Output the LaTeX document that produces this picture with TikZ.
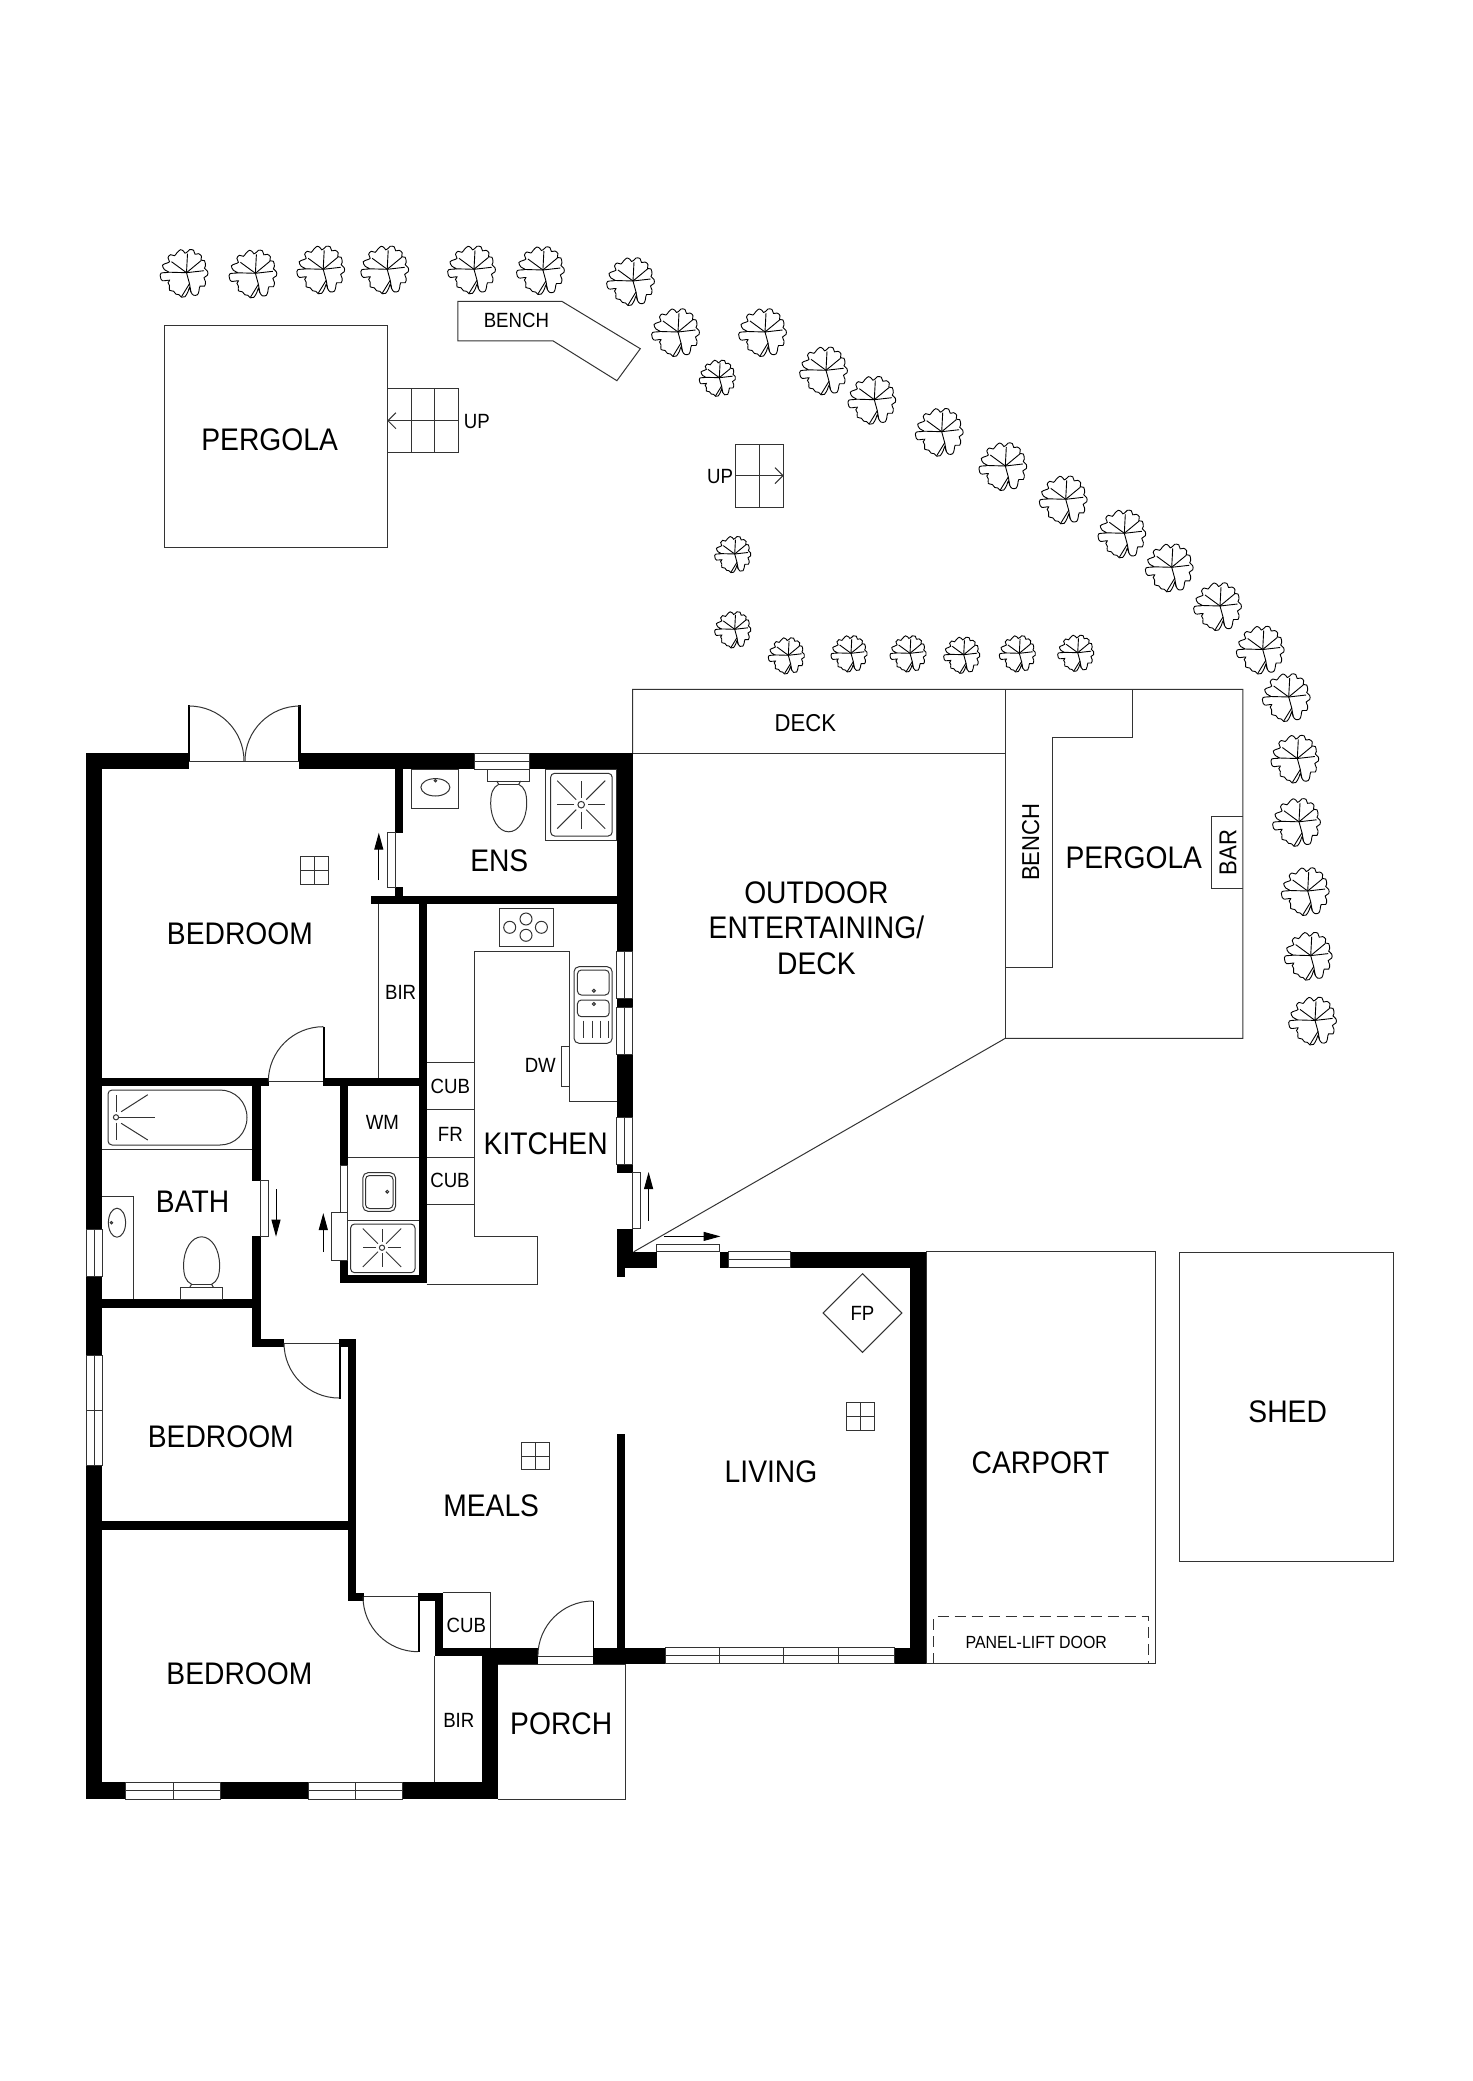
\documentclass[tikz,border=0pt]{standalone}
\usepackage{fontspec}
\setmainfont[FakeStretch=0.905]{Liberation Sans}
\usetikzlibrary{arrows.meta}
\newcommand{\s}{0.5pt}
% one tree, hub at #1,#2, size #3
\newcommand{\tree}[3]{
  \begin{scope}[shift={(#1,#2)},scale=#3,treeline]
    \draw plot[smooth cycle,tension=0.6] coordinates {(-6,-23) (-3,-21.5) (-1.5,-19.5) (1,-21) (3,-23) (7,-22.5) (8.5,-18.5) (12,-19) (15,-16.5) (14.5,-12.5) (18,-12) (19,-7) (18,-4.5) (21,-1.5) (21,2.5) (17.5,5) (19,9) (18,13.5) (13.5,13.5) (12.5,18) (11,22) (7,22.5) (4.5,19.5) (3,15) (1.5,19) (-1.5,24) (-5,24.5) (-7.5,22) (-10.5,21.5) (-13,18.5) (-17,17.5) (-17,13) (-18.5,10) (-17,7.5) (-24,8) (-26,4.5) (-25.5,0.5) (-18,-0.5) (-22,-3) (-24,-7.5) (-20,-9.5) (-17,-11) (-18.5,-15) (-16,-18) (-12,-17) (-9.5,-20)};
    \draw (0,0) -- (1,-19);
    \draw (0,0) -- (-15,-11);
    \draw (0,0) -- (-18,-0.5);
    \draw (0,0) -- (17.5,-2);
    \draw (0,0) -- (14.5,-12);
    \draw (0,0) -- (3,11) -- (-5,24);
    \draw (3,11) -- (4.5,19.5);
  \end{scope}
}
% windows in a wall, run along x or along y
\newcommand{\winh}[4]{\draw[fine] (#1,#2) rectangle (#3,#4); \draw[fine] (#1,{(#2+#4)/2}) -- (#3,{(#2+#4)/2});}
\newcommand{\winv}[4]{\draw[fine] (#1,#2) rectangle (#3,#4); \draw[fine] ({(#1+#3)/2},#2) -- ({(#1+#3)/2},#4);}
% door leaf: hinge #1,#2, arc towards sides #3,#4
\newcommand{\leaf}[4]{\draw[fine] (#1+#3*55,#2) .. controls (#1+#3*55,#2+#4*30.4) and (#1+#3*30.4,#2+#4*55) .. (#1,#2+#4*55);}
\newcommand{\fan}[2]{\draw[fine] (#1,#2) rectangle ++(28,27.5); \draw[fine] (#1+14,#2) -- ++(0,27.5); \draw[fine] (#1,#2+13.75) -- ++(28,0);}
\newcommand{\toilet}[3]{
  \begin{scope}[shift={(#1,#2)},yscale=#3,fine]
    \draw (-21,0) rectangle (21,11.7);
    \draw (-12,11.7) -- (-10,15) .. controls (-16,18) and (-18,24) .. (-18,34) .. controls (-18,50) and (-10,62.5) .. (0,62.5) .. controls (10,62.5) and (18,50) .. (18,34) .. controls (18,24) and (16,18) .. (10,15) -- (12,11.7);
    \draw (-10,15) -- (10,15);
  \end{scope}
}
\newcommand{\rose}[3]{
  \begin{scope}[shift={(#1,#2)},scale=#3,fine]
    \draw (0,0) circle (3.3);
    \draw (0,-7) -- (0,-24); \draw (0,7) -- (0,24);
    \draw (-7,0) -- (-24,0); \draw (7,0) -- (24,0);
    \draw (-5,-5) -- (-24,-24); \draw (5,-5) -- (24,-24);
    \draw (-5,5) -- (-24,24); \draw (5,5) -- (24,24);
  \end{scope}
}

\begin{document}
\begin{tikzpicture}[x=\s,y=-\s,
    fine/.style={line width=0.5pt,draw=black!80},
    treeline/.style={line width=0.45pt,draw=black},
    wall/.style={fill=black},
    bigl/.style={inner sep=0pt,align=center,font=\fontsize{15.6}{17.75}\selectfont},
    midl/.style={inner sep=0pt,font=\fontsize{12.2}{14}\selectfont},
    smalll/.style={inner sep=0pt,font=\fontsize{10.3}{12}\selectfont},
    tinyl/.style={inner sep=0pt,font=\fontsize{8.8}{10}\selectfont},
    slide/.style={-{Triangle[length=8.5pt,width=4.5pt]},line width=0.5pt},
    barb/.style={-{Straight Barb[length=4pt,width=8pt]},fine}]
    \useasboundingbox (0,0) rectangle (1472,2081);

    % Outer walls
    \fill[wall] (86,753) rectangle (189.4,769.3);
    \fill[wall] (299.2,753) rectangle (474.5,769.3);
    \fill[wall] (529.6,753) rectangle (632.8,769.3);
    \fill[wall] (86,753) rectangle (102,1229);
    \fill[wall] (86,1276) rectangle (102,1355);
    \fill[wall] (86,1465.7) rectangle (102,1799);
    \fill[wall] (86,1782.3) rectangle (125.5,1799);
    \fill[wall] (220.4,1782.3) rectangle (308,1799);
    \fill[wall] (402.7,1782.3) rectangle (498,1799);
    \fill[wall] (482,1648) rectangle (498,1799);
    \fill[wall] (616.8,753) rectangle (632.8,951);
    \fill[wall] (616.8,998.3) rectangle (632.8,1007.3);
    \fill[wall] (616.8,1054) rectangle (632.8,1117.7);
    \fill[wall] (616.8,1164.5) rectangle (632.8,1172.8);
    \fill[wall] (616.8,1228.7) rectangle (632.8,1268);
    \fill[wall] (616.8,1251.8) rectangle (656.6,1268);
    \fill[wall] (616.8,1268) rectangle (625,1276.7);
    \fill[wall] (719.8,1251.8) rectangle (728,1267.9);
    \fill[wall] (790.6,1251.8) rectangle (926.4,1267.9);
    \fill[wall] (910,1251.8) rectangle (926.4,1663.6);
    \fill[wall] (894,1647.5) rectangle (926.4,1663.6);
    \fill[wall] (592.9,1648) rectangle (665,1664);
    \fill[wall] (482,1648) rectangle (537.5,1664);

    % Inner walls
    \fill[wall] (395,769.3) rectangle (403.3,832.7);
    \fill[wall] (395,887) rectangle (403.3,896);
    \fill[wall] (371,895.7) rectangle (617,904);
    \fill[wall] (418.6,904) rectangle (426.7,1283);
    \fill[wall] (102,1077.7) rectangle (268.6,1086);
    \fill[wall] (323.3,1077.7) rectangle (426.7,1086);
    \fill[wall] (252,1086) rectangle (260.8,1180.7);
    \fill[wall] (252,1236) rectangle (260.8,1347.3);
    \fill[wall] (102,1299.3) rectangle (252,1307.7);
    \fill[wall] (252,1339.3) rectangle (284.4,1347.3);
    \fill[wall] (339.6,1086) rectangle (347.8,1165);
    \fill[wall] (339.6,1260) rectangle (347.8,1283);
    \fill[wall] (339.6,1275) rectangle (426.7,1283);
    \fill[wall] (339,1339.3) rectangle (355.6,1347.3);
    \fill[wall] (347.6,1339.3) rectangle (355.6,1601);
    \fill[wall] (102,1521) rectangle (347.6,1530);
    \fill[wall] (347.6,1592.7) rectangle (363.5,1601);
    \fill[wall] (418,1592.7) rectangle (442.6,1601);
    \fill[wall] (434.7,1592.7) rectangle (442.6,1656);
    \fill[wall] (434.7,1648) rectangle (537.5,1656);
    \fill[wall] (616.5,1434) rectangle (625,1648);

    % Windows
    \winh{474.5}{753}{529.6}{769.3}
    \winv{616.8}{951}{632.8}{998.3}
    \winv{616.8}{1007.3}{632.8}{1054}
    \winv{616.8}{1117.7}{632.8}{1164.5}
    \winv{86.5}{1229}{102}{1276}
    \winv{86}{1355}{102}{1465.7}
    \draw[fine] (86,1410.3) -- (102,1410.3);
    \winh{125.5}{1782.3}{220.4}{1799}
    \draw[fine] (173,1782.3) -- (173,1799);
    \winh{308}{1782.3}{402.7}{1799}
    \draw[fine] (355.2,1782.3) -- (355.2,1799);
    \winh{665}{1647.5}{894}{1663.6}
    \draw[fine] (719.8,1647.5) -- (719.8,1663.6);
    \draw[fine] (783.7,1647.5) -- (783.7,1663.6);
    \draw[fine] (838.8,1647.5) -- (838.8,1663.6);
    \winh{728}{1251.8}{790.6}{1267.9}

    % Doors
    \draw[fine] (189.4,761) -- (299.2,761);
    \fill[wall] (188,705.3) rectangle (190.4,761);
    \fill[wall] (298.4,705.3) rectangle (300.8,761);
    \leaf{189}{761}{1}{-1}
    \leaf{300}{761}{-1}{-1}
    \draw[fine] (268.6,1081.7) -- (323.3,1081.7);
    \fill[wall] (323.3,1026.7) rectangle (325.2,1081.7);
    \leaf{323.3}{1081.7}{-1}{-1}
    \draw[fine] (284.4,1343) -- (339,1343);
    \fill[wall] (339,1347) rectangle (341,1399);
    \leaf{339}{1343}{-1}{1}
    \draw[fine] (363.5,1596.7) -- (418,1596.7);
    \fill[wall] (418,1601) rectangle (420,1652);
    \leaf{418}{1596.7}{-1}{1}
    \draw[fine] (537.5,1656) -- (592.9,1656);
    \fill[wall] (592.9,1601) rectangle (594.4,1656);
    \leaf{592.9}{1656}{-1}{-1}

    % Sliding doors
    \draw[fine] (387,832.7) rectangle (395.6,887.3);
    \draw[slide] (378.8,880) -- (378.8,832.7);
    \draw[fine] (260,1180.7) rectangle (268.6,1236);
    \draw[slide] (276,1189) -- (276,1236.7);
    \draw[fine] (340,1165) rectangle (347,1212.7);
    \draw[fine] (331.4,1212.7) rectangle (347,1260);
    \draw[slide] (323.3,1252) -- (323.3,1213);
    \draw[fine] (632.6,1172.8) rectangle (640.4,1228.7);
    \draw[slide] (648.6,1220.7) -- (648.6,1172);
    \draw[fine] (656.6,1244) rectangle (719.8,1251.8);
    \draw[slide] (664,1236.4) -- (720.5,1236.4);

    % Ensuite fittings
    \draw[fine] (411,769.3) rectangle (458.8,808.3);
    \draw[fine] (435.4,787.3) ellipse [x radius=14.5,y radius=8.7];
    \draw[fine] (435.4,780.7) circle (1.2);
    \toilet{508.7}{769.3}{1}
    \draw[fine] (545.3,769.3) rectangle (616.8,840.7);
    \draw[fine,rounded corners=2pt] (550.6,773.3) rectangle (612.2,836);
    \rose{581.2}{804.7}{1}

    % Kitchen benches
    \draw[fine] (426.7,1062.3) -- (474.4,1062.3);
    \draw[fine] (426.7,1109.5) -- (474.4,1109.5);
    \draw[fine] (426.7,1157) -- (474.4,1157);
    \draw[fine] (426.7,1204.3) -- (474.4,1204.3);
    \draw[fine] (426.7,1284) -- (537.6,1284) -- (537.6,1236) -- (474.4,1236) -- (474.4,951) -- (569.8,951) -- (569.8,1101.7) -- (616.8,1101.7);
    \draw[fine] (378.8,904) -- (378.8,1077.7);
    \draw[fine] (499.3,908.3) rectangle (553.7,946.7);
    \draw[fine] (526,919) circle (6);
    \draw[fine] (526,935.3) circle (6);
    \draw[fine] (509.7,927.3) circle (6);
    \draw[fine] (541.4,927.3) circle (6);
    \draw[fine,rounded corners=2.5pt] (574,966.7) rectangle (612.2,1043.3);
    \draw[fine,rounded corners=2pt] (577.4,970) rectangle (609.2,995);
    \draw[fine,rounded corners=2pt] (577.4,1000) rectangle (609.2,1016.7);
    \draw[fine] (593.9,990.7) circle (1.5);
    \draw[fine] (593.9,1004) circle (1.5);
    \draw[fine] (583,1020.7) -- (583,1038.3);
    \draw[fine] (592,1020.7) -- (592,1038.3);
    \draw[fine] (600.4,1020.7) -- (600.4,1038.3);
    \draw[fine] (608,1020.7) -- (608,1038.3);
    \draw[fine] (561.3,1046) rectangle (569.8,1086);

    % Laundry fittings
    \draw[fine] (347.8,1157) -- (418.6,1157);
    \draw[fine,rounded corners=2.5pt] (362.9,1172.7) rectangle (395.5,1211.3);
    \draw[fine,rounded corners=2pt] (365.5,1175.5) rectangle (393,1208.5);
    \draw[fine] (387.3,1191.7) circle (1.4);
    \draw[fine] (347.8,1220.3) -- (418.6,1220.3);
    \draw[fine,rounded corners=2pt] (350.6,1224) rectangle (415,1272.7);
    \rose{382}{1247.7}{0.8}

    % Bathroom fittings
    \draw[fine,rounded corners=2pt] (220,1090) -- (108,1090) -- (108,1145) -- (220,1145);
    \draw[fine] (220,1090) .. controls (235,1090) and (247,1102) .. (247,1117.5) .. controls (247,1133) and (235,1145) .. (220,1145);
    \draw[fine] (102,1149) -- (252,1149);
    \draw[fine] (116,1117.3) circle (2.6);
    \draw[fine] (116,1095) -- (116,1112);
    \draw[fine] (116,1122.5) -- (116,1140);
    \draw[fine] (119,1117.3) -- (154.7,1117.3);
    \draw[fine] (121.2,1111.7) -- (147.8,1094.7);
    \draw[fine] (121.2,1123.3) -- (147.8,1140);
    \draw[fine] (102,1196.7) -- (133.5,1196.7) -- (133.5,1299.3);
    \draw[fine] (117,1222.7) ellipse [x radius=8.6,y radius=14.5];
    \draw[fine] (111.4,1222.7) circle (1.2);
    \toilet{201.6}{1299.3}{-1}

    % Other built-ins
    \draw[fine] (434.7,1656) -- (434.7,1782.3);
    \draw[fine] (442.6,1592.7) -- (490,1592.7) -- (490,1648);

    % Ceiling fans
    \fan{300.3}{856.7}
    \fan{521.7}{1442.3}
    \fan{846.8}{1402.5}

    % Fireplace
    \draw[fine] (862.5,1273.7) -- (901.9,1313) -- (862.5,1352.3) -- (823.1,1313) -- cycle;

    % Outside
    \draw[fine] (498,1664) -- (625,1664) -- (625,1799) -- (498,1799);
    \draw[fine] (926.4,1251.8) rectangle (1155.7,1663.6);
    \draw[fine,dash pattern=on 5.5pt off 3pt] (933.7,1663.6) -- (933.7,1616.4) -- (1148,1616.4) -- (1148,1663.6);
    \draw[fine] (1179.5,1252) rectangle (1393.3,1561);
    \draw[fine] (632.5,753) -- (632.5,689.3) -- (1242.8,689.3) -- (1242.8,1038.3) -- (1005.3,1038.3) -- (633.7,1251.8);
    \draw[fine] (632.8,753) -- (1005.3,753);
    \draw[fine] (1005.3,689.3) -- (1005.3,1038.3);
    \draw[fine] (1005.3,967) -- (1052.6,967) -- (1052.6,737.3) -- (1132,737.3) -- (1132,689.3);
    \draw[fine] (1242.8,816.3) -- (1211.5,816.3) -- (1211.5,888) -- (1242.8,888);

    % Far pergola, bench and steps
    \draw[fine] (164.8,325.3) rectangle (387.2,547.3);
    \draw[fine] (387.2,388.7) rectangle (458.2,452);
    \draw[fine] (411,388.7) -- (411,452);
    \draw[fine] (434.8,388.7) -- (434.8,452);
    \draw[barb] (458.2,420.7) -- (387.2,420.7);
    \draw[fine] (457.8,301.3) -- (561.8,301.3) -- (640.3,348.7) -- (616.9,380.7) -- (553.2,341) -- (457.8,341) -- cycle;
    \draw[fine] (735.3,444) rectangle (783.7,507.7);
    \draw[fine] (759.7,444) -- (759.7,507.7);
    \draw[barb] (735.3,475.7) -- (783.7,475.7);

    % Trees
    \tree{186.5}{272.7}{1}
    \tree{255.4}{273.3}{1}
    \tree{323.2}{269.3}{1}
    \tree{387.2}{269.3}{1}
    \tree{474}{269.3}{1}
    \tree{542.9}{270}{1}
    \tree{633}{281}{1}
    \tree{678}{332}{1}
    \tree{765}{332}{1}
    \tree{826}{370.3}{1}
    \tree{874.3}{399.7}{1}
    \tree{941.7}{431.7}{1}
    \tree{1005.3}{466}{1}
    \tree{1065.7}{499.3}{1}
    \tree{1124.3}{533.3}{1}
    \tree{1171.7}{567.3}{1}
    \tree{1220}{606}{1}
    \tree{1262.7}{649.5}{1}
    \tree{1288.7}{697}{1}
    \tree{1297.3}{758.5}{1}
    \tree{1299}{821.8}{1}
    \tree{1307.7}{891}{1}
    \tree{1310.7}{955.6}{1}
    \tree{1315}{1020.4}{1}
    \tree{719.3}{377.7}{0.76}
    \tree{734.7}{554}{0.76}
    \tree{734.7}{629.3}{0.76}
    \tree{788.3}{655.3}{0.76}
    \tree{851}{653.3}{0.76}
    \tree{910}{653.3}{0.76}
    \tree{963.7}{654.7}{0.76}
    \tree{1019.3}{653.3}{0.76}
    \tree{1077.7}{652.7}{0.76}

    % Labels
    \node[bigl] (bed-1) at (239.9,933.3) {BEDROOM};
    \node[bigl] (bed-2) at (220.8,1436.7) {BEDROOM};
    \node[bigl] (bed-3) at (239.4,1674) {BEDROOM};
    \node[bigl] (ens) at (499.3,860.7) {ENS};
    \node[bigl] (kitchen) at (545.7,1143.3) {KITCHEN};
    \node[bigl] (bath) at (192.6,1201.3) {BATH};
    \node[bigl] (meals) at (491.2,1505.7) {MEALS};
    \node[bigl] (living) at (771,1471.4) {LIVING};
    \node[bigl] (porch) at (561.2,1723.3) {PORCH};
    \node[bigl] (carport) at (1040.5,1462.5) {CARPORT};
    \node[bigl] (shed) at (1287.7,1411.7) {SHED};
    \node[bigl] (outdoor) at (816.4,928) {OUTDOOR\\ENTERTAINING/\\DECK};
    \node[bigl] (pergola-1) at (269.6,440) {PERGOLA};
    \node[bigl] (pergola-2) at (1133.8,857.7) {PERGOLA};
    \node[midl] (deck) at (805.3,723.3) {DECK};
    \node[midl,rotate=90] (bench-2) at (1030.7,842.3) {BENCH};
    \node[midl,rotate=90] (bar) at (1228,852.3) {BAR};
    \node[smalll] (bench-1) at (516.4,320) {BENCH};
    \node[smalll] (up-1) at (476.8,421.7) {UP};
    \node[smalll] (up-2) at (720,476.3) {UP};
    \node[smalll] (bir-1) at (400.6,992.3) {BIR};
    \node[smalll] (bir-2) at (458.8,1720) {BIR};
    \node[smalll] (cub-1) at (450.4,1086) {CUB};
    \node[smalll] (fr) at (450.4,1134) {FR};
    \node[smalll] (cub-2) at (450,1180.7) {CUB};
    \node[smalll] (cub-3) at (466.3,1625.7) {CUB};
    \node[smalll] (dw) at (540.3,1065) {DW};
    \node[smalll] (wm) at (382.4,1122) {WM};
    \node[smalll] (fp) at (862.5,1313) {FP};
    \node[tinyl] (lift) at (1036.3,1642.9) {PANEL-LIFT DOOR};

\end{tikzpicture}
\end{document}
